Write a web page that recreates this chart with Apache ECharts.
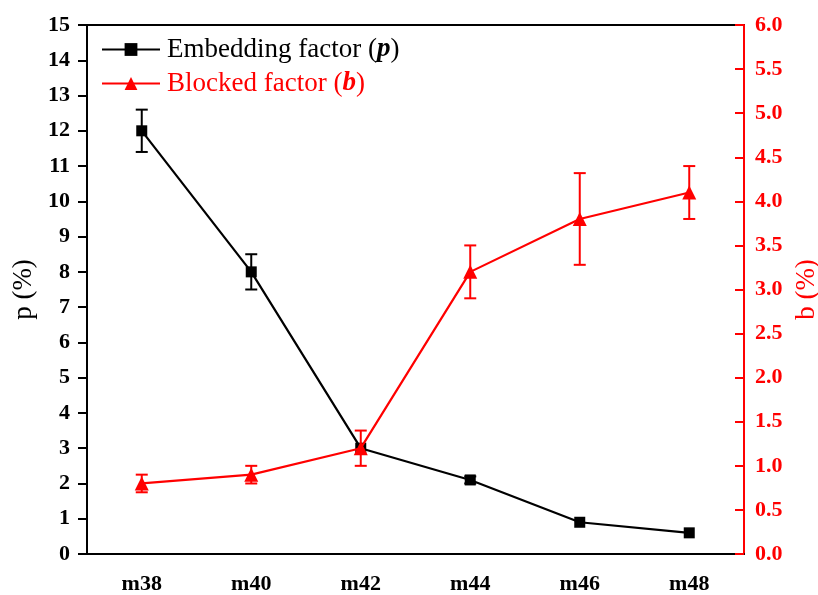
<!DOCTYPE html>
<html>
<head>
<meta charset="utf-8">
<script src="https://cdn.jsdelivr.net/npm/echarts@6/dist/echarts.min.js"></script>
<style>html,body{margin:0;padding:0;background:#fff}#c{width:818px;height:595px}</style>
</head>
<body>
<div id="c"></div>
<script>
var categories = ['m38', 'm40', 'm42', 'm44', 'm46', 'm48'];
var pValues = [12, 8, 3, 2.1, 0.9, 0.6];
var pErrors = [0.6, 0.5, 0, 0.1, 0, 0];
var bValues = [0.8, 0.9, 1.2, 3.2, 3.8, 4.1];
var bErrors = [0.1, 0.1, 0.2, 0.3, 0.52, 0.3];
var pTicks = {min: 0, max: 15, interval: 1};
var bTicks = {min: 0, max: 6, interval: 0.5};

var FONT = '"Liberation Serif", "DejaVu Serif", serif';

function errData(vals, errs) {
  return vals.map(function (v, i) { return [i, v - errs[i], v + errs[i]]; });
}
function errRender(color) {
  return function (params, api) {
    var lo = api.coord([api.value(0), api.value(1)]);
    var hi = api.coord([api.value(0), api.value(2)]);
    if (Math.abs(hi[1] - lo[1]) < 1) return null;
    var w = 6;
    var st = {stroke: color, lineWidth: 2};
    return {
      type: 'group',
      children: [
        {type: 'line', shape: {x1: lo[0], y1: lo[1], x2: hi[0], y2: hi[1]}, style: st},
        {type: 'line', shape: {x1: lo[0] - w, y1: lo[1], x2: lo[0] + w, y2: lo[1]}, style: st},
        {type: 'line', shape: {x1: hi[0] - w, y1: hi[1], x2: hi[0] + w, y2: hi[1]}, style: st}
      ]
    };
  };
}

var chart = echarts.init(document.getElementById('c'));
chart.setOption({
  backgroundColor: '#fff',
  animation: false,
  grid: {left: 87, right: 74, top: 25, bottom: 41, outerBoundsMode: 'none', containLabel: false,
    show: true, borderColor: '#000', borderWidth: 2, backgroundColor: 'transparent'},
  legend: {
    left: 96, top: 31, orient: 'vertical', itemWidth: 58, itemHeight: 16, itemGap: 7,
    data: [
      {name: 'Embedding factor (p)', textStyle: {color: '#000'}},
      {name: 'Blocked factor (b)', textStyle: {color: '#f00'}}
    ],
    formatter: function (name) {
      if (name === 'Embedding factor (p)') return 'Embedding factor ({pk|p})';
      return 'Blocked factor ({br|b})';
    },
    textStyle: {
      fontFamily: FONT, fontSize: 27, padding: [0, 0, 0, 2],
      rich: {
        pk: {fontFamily: FONT, fontSize: 27, fontWeight: 'bold', fontStyle: 'italic', color: '#000'},
        br: {fontFamily: FONT, fontSize: 27, fontWeight: 'bold', fontStyle: 'italic', color: '#f00'}
      }
    }
  },
  xAxis: {
    type: 'category', data: categories, boundaryGap: true,
    axisLine: {lineStyle: {color: '#000', width: 2}},
    axisTick: {alignWithLabel: true, length: 9, lineStyle: {color: '#000', width: 2}},
    axisLabel: {fontFamily: FONT, fontWeight: 'bold', fontSize: 22, color: '#000', margin: 19},
    splitLine: {show: false}
  },
  yAxis: [
    {
      type: 'value', min: pTicks.min, max: pTicks.max, interval: pTicks.interval, position: 'left',
      name: 'p (%)', nameLocation: 'middle', nameGap: 45, nameRotate: 90,
      nameTextStyle: {fontFamily: FONT, fontSize: 27, color: '#000'},
      axisLine: {show: true, lineStyle: {color: '#000', width: 2}},
      axisTick: {show: true, length: 9, lineStyle: {color: '#000', width: 2}},
      axisLabel: {fontFamily: FONT, fontWeight: 'bold', fontSize: 22, color: '#000', margin: 17},
      splitLine: {show: false}
    },
    {
      type: 'value', min: bTicks.min, max: bTicks.max, interval: bTicks.interval, position: 'right',
      name: 'b (%)', nameLocation: 'middle', nameGap: 47, nameRotate: 90,
      nameTextStyle: {fontFamily: FONT, fontSize: 27, color: '#f00'},
      axisLine: {show: true, lineStyle: {color: '#f00', width: 2}},
      axisTick: {show: true, inside: true, length: 9, lineStyle: {color: '#f00', width: 2}},
      axisLabel: {fontFamily: FONT, fontWeight: 'bold', fontSize: 22, color: '#f00', margin: 11,
        formatter: function (v) { return v.toFixed(1); }},
      splitLine: {show: false}
    }
  ],
  series: [
    {
      name: 'Embedding factor (p)', type: 'line', yAxisIndex: 0, data: pValues,
      symbol: 'rect', symbolSize: 11, z: 3,
      lineStyle: {color: '#000', width: 2.2}, itemStyle: {color: '#000'}
    },
    {
      name: 'pErr', type: 'custom', yAxisIndex: 0, data: errData(pValues, pErrors),
      renderItem: errRender('#000'), encode: {x: 0, y: [1, 2]}, z: 3, silent: true
    },
    {
      name: 'Blocked factor (b)', type: 'line', yAxisIndex: 1, data: bValues,
      symbol: 'triangle', symbolSize: 14, z: 5,
      lineStyle: {color: '#f00', width: 2.2}, itemStyle: {color: '#f00'}
    },
    {
      name: 'bErr', type: 'custom', yAxisIndex: 1, data: errData(bValues, bErrors),
      renderItem: errRender('#f00'), encode: {x: 0, y: [1, 2]}, z: 5, silent: true
    }
  ]
});
</script>
</body>
</html>
